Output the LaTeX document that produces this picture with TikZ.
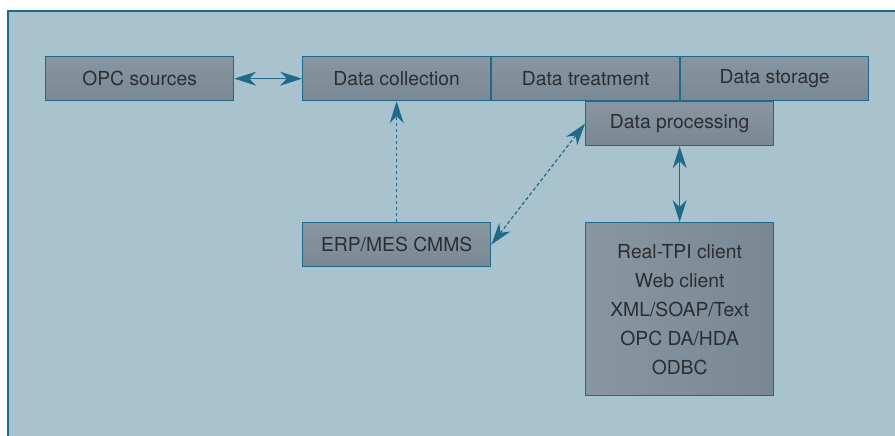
\documentclass[tikz,border=0pt]{standalone}
\usepackage{fontspec}
\setmainfont{TeX Gyre Heros}
\usetikzlibrary{arrows.meta}
\definecolor{panel}{HTML}{A8C2CE}
\definecolor{edge}{HTML}{1F6A8A}
\definecolor{boxtop}{HTML}{8896A1}
\definecolor{boxbot}{HTML}{7A8893}
\definecolor{ink}{HTML}{2B2E31}
\tikzset{
  block/.style={draw=edge, line width=1.3pt, top color=boxtop, bottom color=boxbot,
    minimum width=188pt, minimum height=44pt, inner sep=0pt, anchor=north west,
    font=\fontsize{19.3}{23}\selectfont, text=ink, align=center},
  link/.style={draw=edge, line width=1.2pt,
    >={Stealth[length=22pt, width=14pt, inset=7pt]}},
  dashlink/.style={link, dash pattern=on 3.5pt off 2.5pt}
}
\begin{document}
\begin{tikzpicture}[x=1pt, y=-1pt]
  \useasboundingbox (0,0) rectangle (895,436);
  % backdrop panel
  \fill[panel] (8,11) rectangle (895,436);
  \draw[edge, line width=1.2pt] (8,436) -- (8,11) -- (895,11);

  % blocks
  \node[block] (opc)  at (45,56)   {OPC sources};
  \node[block] (coll) at (302,56)  {Data collection};
  \node[block] (treat) at (491,56) {Data treatment};
  \node[block] (store) at (680,56) {Data storage};
  \node[block] (proc) at (585,101) {Data processing};
  \node[block] (erp)  at (302,222) {ERP/MES CMMS};
  \node[block, minimum height=173pt, left color=boxtop, right color=boxbot,
        font=\fontsize{19.3}{29}\selectfont] (cli) at (585,222)
        {Real-TPI client\\Web client\\XML/SOAP/Text\\OPC DA/HDA\\ODBC};

  % connectors
  \draw[link, <->] (opc.east) -- (coll.west);
  \draw[dashlink, ->] (erp.north) -- (coll.south);
  \draw[dashlink, <->] (erp.east) -- (proc.west);
  \draw[link, <->] (proc.south) -- (cli.north);
\end{tikzpicture}
\end{document}
